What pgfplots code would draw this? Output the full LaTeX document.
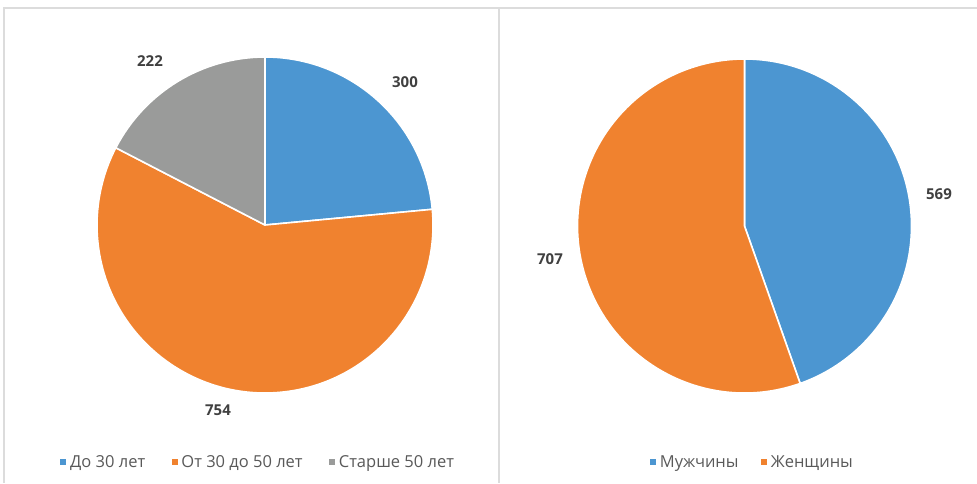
\documentclass[border=0pt]{standalone}
\usepackage{fontspec}
\setmainfont{Open Sans}
\usepackage{pgfplots}
\pgfplotsset{compat=1.18}

\definecolor{pblue}{HTML}{4C96D1}
\definecolor{porange}{HTML}{F0822F}
\definecolor{pgray}{HTML}{9A9B9A}
\definecolor{framec}{HTML}{DCDCDC}
\definecolor{lbl}{HTML}{404040}
\definecolor{legtxt}{HTML}{595959}

% cx, cy, r, cumulative start, value, total, colour  (clockwise from 12 o'clock)
\newcommand\pieslice[7]{%
  \fill[#7, draw=white, line width=1.6pt, line join=round]
    (axis cs:#1,#2) -- ++({90-#4/#6*360}:#3pt)
    arc[start angle={90-#4/#6*360}, end angle={90-(#4+#5)/#6*360}, radius=#3pt]
    -- cycle;}

\tikzset{vlabel/.style={font=\bfseries\fontsize{15}{17}\selectfont, text=lbl}}

\pgfplotsset{
  panel/.style={
    scale only axis, hide axis, clip=false,
    height=483pt, ymin=0, ymax=483, y dir=reverse,
    anchor=south west,
    legend image code/.code={\fill[##1, draw=none] (0pt,-3pt) rectangle (6pt,3pt);
      \path (8pt,0pt);},
    legend columns=-1,
    legend style={draw=none, fill=none,
      font=\fontsize{16.5}{19}\selectfont, text=legtxt,
      nodes={inner xsep=1.5pt, inner ysep=2pt}},
  },
}

\begin{document}
\begin{tikzpicture}
\useasboundingbox (0,0) rectangle (977pt,483pt);

% left panel: age groups
\begin{axis}[panel, at={(0pt,0pt)}, width=500pt, xmin=0, xmax=500,
  legend style={at={(axis description cs:0.516,0.0435)}, anchor=center,
    /tikz/every even column/.append style={column sep=25pt}}]
  \addlegendimage{fill=pblue}\addlegendentry{До 30 лет}
  \addlegendimage{fill=porange}\addlegendentry{От 30 до 50 лет}
  \addlegendimage{fill=pgray}\addlegendentry{Старше 50 лет}
  \pieslice{265}{225}{168}{0}{300}{1276}{pblue}
  \pieslice{265}{225}{168}{300}{754}{1276}{porange}
  \pieslice{265}{225}{168}{1054}{222}{1276}{pgray}
  \node[vlabel] at (axis cs:405,82) {300};
  \node[vlabel] at (axis cs:218,410) {754};
  \node[vlabel] at (axis cs:150,61) {222};
\end{axis}

% right panel: gender
\begin{axis}[panel, at={(500pt,0pt)}, width=477pt, xmin=500, xmax=977,
  legend style={at={(axis description cs:0.529,0.0435)}, anchor=center,
    /tikz/every even column/.append style={column sep=21pt}}]
  \addlegendimage{fill=pblue}\addlegendentry{Мужчины}
  \addlegendimage{fill=porange}\addlegendentry{Женщины}
  \pieslice{744.5}{226}{167}{0}{569}{1276}{pblue}
  \pieslice{744.5}{226}{167}{569}{707}{1276}{porange}
  \node[vlabel] at (axis cs:939,194) {569};
  \node[vlabel] at (axis cs:550,259) {707};
\end{axis}

% chart frames
\draw[framec, line width=1.5pt] (977pt,475pt) -- (4pt,475pt) -- (4pt,0pt);
\draw[framec, line width=1.5pt] (499pt,475pt) -- (499pt,0pt);
\end{tikzpicture}
\end{document}
